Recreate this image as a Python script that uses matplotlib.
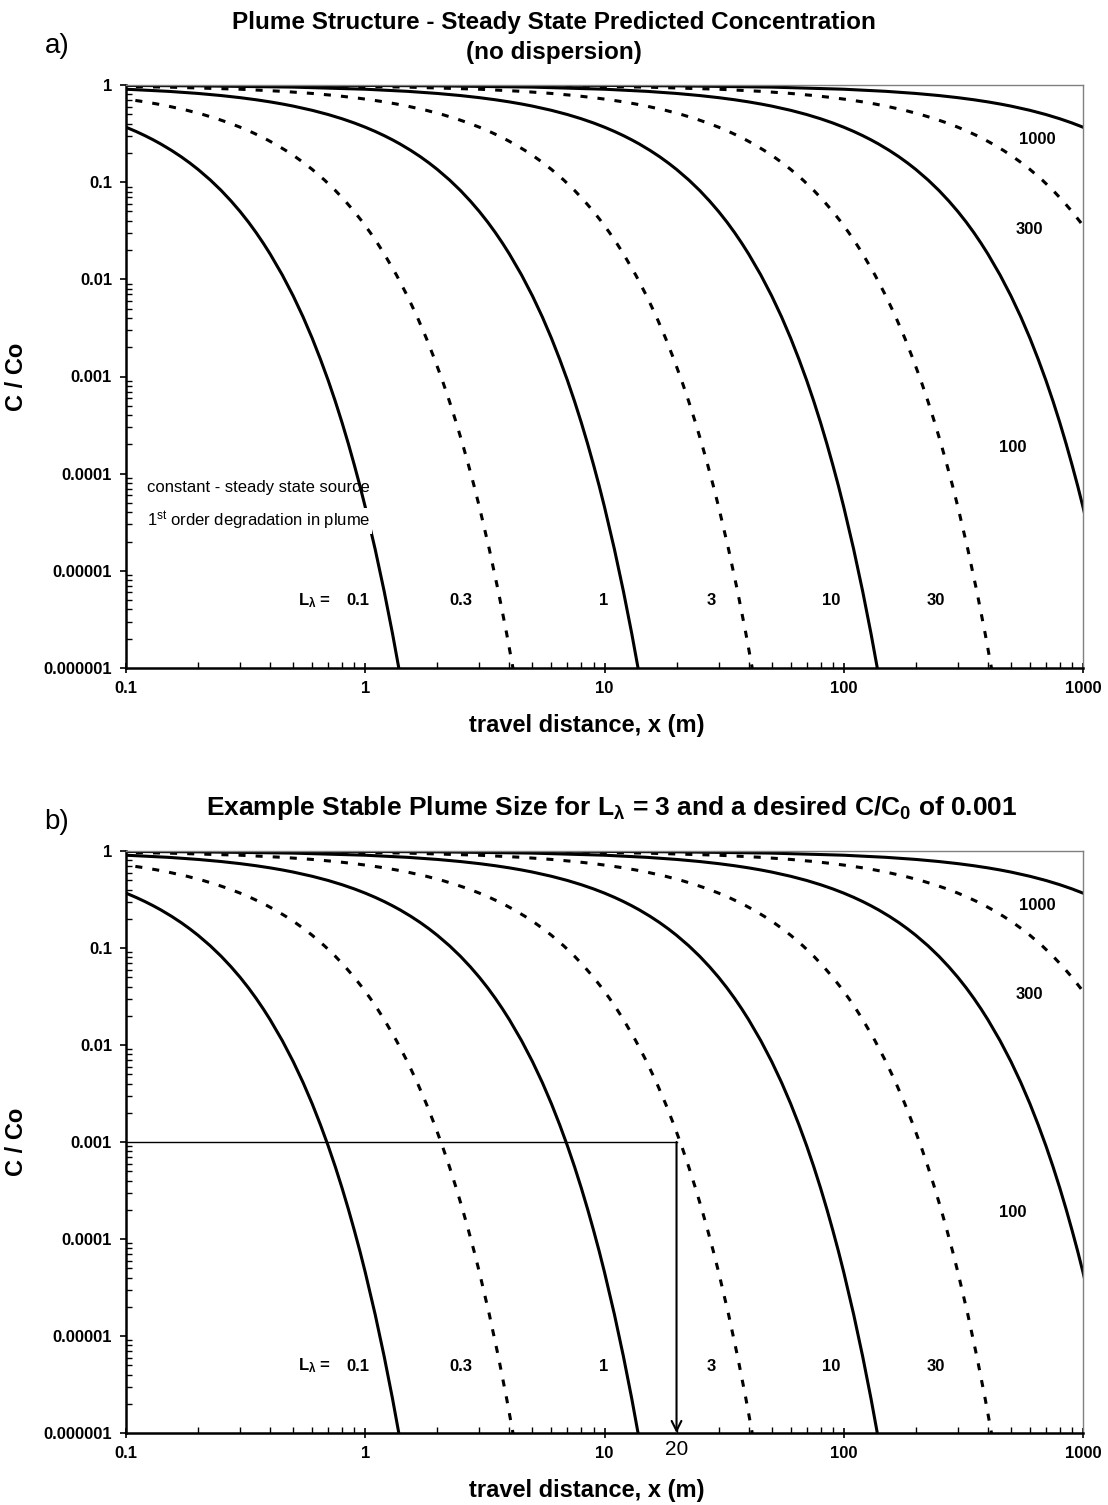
import matplotlib
matplotlib.use("Agg")
import numpy as np
import matplotlib.pyplot as plt
from matplotlib.ticker import LogLocator, NullFormatter

plt.rcParams['font.family'] = ['Liberation Sans', 'DejaVu Sans']
plt.rcParams['mathtext.fontset'] = 'custom'
plt.rcParams['mathtext.rm'] = 'Liberation Sans'
plt.rcParams['mathtext.it'] = 'Liberation Sans:italic'
plt.rcParams['mathtext.bf'] = 'Liberation Sans:bold'

# decay lengths L_lambda (m) and line style for each curve
decay_lengths = [0.1, 0.3, 1, 3, 10, 30, 100, 300, 1000]
curve_dashed = [False, True, False, True, False, True, False, True, False]

# shared profile: distance / L_lambda vs C/Co
profile_ratio = [1e-4, 2e-4, 5e-4, 1e-3, 2e-3, 5e-3, 0.01, 0.02, 0.05, 0.1, 0.15,
                 0.2, 0.25, 0.3, 0.35, 0.4, 0.45, 0.5, 0.6, 0.7, 0.8, 0.9, 1.0,
                 1.1, 1.2, 1.3, 1.4, 1.55, 1.7, 1.85, 2.0, 2.25, 2.5, 2.75, 3.0,
                 3.25, 3.5, 3.75, 4.0, 4.5, 5.0, 5.5, 6.0, 6.5, 7.0, 7.5, 8.0,
                 8.5, 9.0, 9.5, 10, 11, 12, 13, 14, 15]
profile_conc = [0.9999, 0.9998, 0.9995, 0.9990, 0.9980, 0.9950, 0.9900, 0.9802,
                0.9512, 0.9048, 0.8607, 0.8187, 0.7788, 0.7408, 0.7047, 0.6703,
                0.6376, 0.6065, 0.5488, 0.4966, 0.4493, 0.4066, 0.3679, 0.3329,
                0.3012, 0.2725, 0.2466, 0.2122, 0.1827, 0.1572, 0.1353, 0.1054,
                0.0821, 0.0639, 0.0498, 0.0388, 0.0302, 0.0235, 0.0183, 0.0111,
                0.00674, 0.00409, 0.00248, 0.00150, 9.12e-4, 5.53e-4, 3.35e-4,
                2.03e-4, 1.23e-4, 7.49e-5, 4.54e-5, 1.67e-5, 6.14e-6, 2.26e-6,
                8.32e-7, 3.06e-7]

# example in panel b
target_conc = 0.001
target_distance = 20

x_ticks = [0.1, 1, 10, 100, 1000]
x_tick_labels = ['0.1', '1', '10', '100', '1000']
y_ticks = [1e-6, 1e-5, 1e-4, 1e-3, 1e-2, 1e-1, 1]
y_tick_labels = ['0.000001', '0.00001', '0.0001', '0.001', '0.01', '0.1', '1']

# curve labels (text, axes-fraction position)
bottom_labels = [('0.1', 0.242), ('0.3', 0.350), ('1', 0.499),
                 ('3', 0.612), ('10', 0.737), ('30', 0.846)]
side_labels = [('1000', 0.952, 0.906), ('300', 0.944, 0.753), ('100', 0.927, 0.379)]

W, H = 1108, 1505
fig = plt.figure(figsize=(W / 100, H / 100), dpi=100)

ratio = np.array(profile_ratio)
conc = np.array(profile_conc)


def draw_panel(ax, show_notes):
    for L, dashed in zip(decay_lengths, curve_dashed):
        ls = (0, (2.3, 3.3)) if dashed else '-'
        ax.plot(ratio * L, conc, color='black', lw=2.2, linestyle=ls,
                solid_capstyle='butt', dash_capstyle='butt', zorder=2)
    ax.set_xscale('log')
    ax.set_yscale('log')
    ax.set_xlim(0.1, 1000)
    ax.set_ylim(1e-6, 1)
    ax.set_xticks(x_ticks)
    ax.set_xticklabels(x_tick_labels, fontsize=12, fontweight='bold')
    ax.set_yticks(y_ticks)
    ax.set_yticklabels(y_tick_labels, fontsize=12, fontweight='bold')
    ax.xaxis.set_minor_locator(LogLocator(base=10, subs=np.arange(2, 10)))
    ax.yaxis.set_minor_locator(LogLocator(base=10, subs=np.arange(2, 10)))
    ax.xaxis.set_minor_formatter(NullFormatter())
    ax.yaxis.set_minor_formatter(NullFormatter())
    ax.tick_params(axis='x', which='major', direction='inout', length=7, width=1.2, pad=6)
    ax.tick_params(axis='x', which='minor', direction='in', length=4, width=1)
    ax.tick_params(axis='y', which='major', direction='out', length=4, width=1.2, pad=6)
    ax.tick_params(axis='y', which='minor', direction='in', length=4, width=1)
    for side in ['left', 'bottom']:
        ax.spines[side].set_linewidth(1.8)
        ax.spines[side].set_color('black')
    for side in ['top', 'right']:
        ax.spines[side].set_linewidth(1.0)
        ax.spines[side].set_color('#808080')
    ax.set_xlabel('travel distance, x (m)', fontsize=17, fontweight='bold')
    ax.set_ylabel('C / Co', fontsize=17, fontweight='bold')
    ax.xaxis.set_label_coords(0.481, -0.079)
    ax.yaxis.set_label_coords(-0.102, 0.5)

    ax.text(0.197, 0.115, r'L$_{\mathbf{\lambda}}$ =', transform=ax.transAxes,
            ha='center', va='center', fontsize=12, fontweight='bold')
    for txt, xf in bottom_labels:
        ax.text(xf, 0.115, txt, transform=ax.transAxes, ha='center', va='center',
                fontsize=12, fontweight='bold')
    for txt, xf, yf in side_labels:
        ax.text(xf, yf, txt, transform=ax.transAxes, ha='center', va='center',
                fontsize=12, fontweight='bold')

    if show_notes:
        ax.text(0.022, 0.309, 'constant - steady state source', transform=ax.transAxes,
                ha='left', va='center', fontsize=12, zorder=5)
        ax.text(0.022, 0.252, r'1$^{\mathrm{st}}$ order degradation in plume',
                transform=ax.transAxes, ha='left', va='center', fontsize=12, zorder=5,
                bbox=dict(facecolor='white', edgecolor='none', pad=1.0))


ax_a = fig.add_axes([126 / W, 1 - 668 / H, 957 / W, 583 / H])
draw_panel(ax_a, True)
fig.text(0.5, 1 - 22 / H, 'Plume Structure - Steady State Predicted Concentration',
         ha='center', va='center', fontsize=17.5, fontweight='bold')
fig.text(0.5, 1 - 52 / H, '(no dispersion)', ha='center', va='center',
         fontsize=17.5, fontweight='bold')
fig.text(57 / W, 1 - 46 / H, 'a)', ha='center', va='center', fontsize=20)

ax_b = fig.add_axes([126 / W, 1 - 1433 / H, 957 / W, 582 / H])
draw_panel(ax_b, False)
ax_b.plot([0.1, target_distance], [target_conc, target_conc], color='black', lw=1.0, zorder=3)
ax_b.annotate('', xy=(target_distance, 1e-6), xytext=(target_distance, target_conc),
              arrowprops=dict(arrowstyle='->,head_length=0.7,head_width=0.35',
                              color='black', lw=1.5, shrinkA=0, shrinkB=0), zorder=3)
ax_b.text(target_distance, -0.029, str(target_distance), transform=ax_b.get_xaxis_transform(),
          ha='center', va='center', fontsize=15)
fig.text(612 / W, 1 - 808 / H,
         r'Example Stable Plume Size for L$_{\mathbf{\lambda}}$ = 3 and a desired C/C$_{\mathbf{0}}$ of 0.001',
         ha='center', va='center', fontsize=19, fontweight='bold')
fig.text(57 / W, 1 - 822 / H, 'b)', ha='center', va='center', fontsize=20)

fig.savefig('out.png', dpi=100)
